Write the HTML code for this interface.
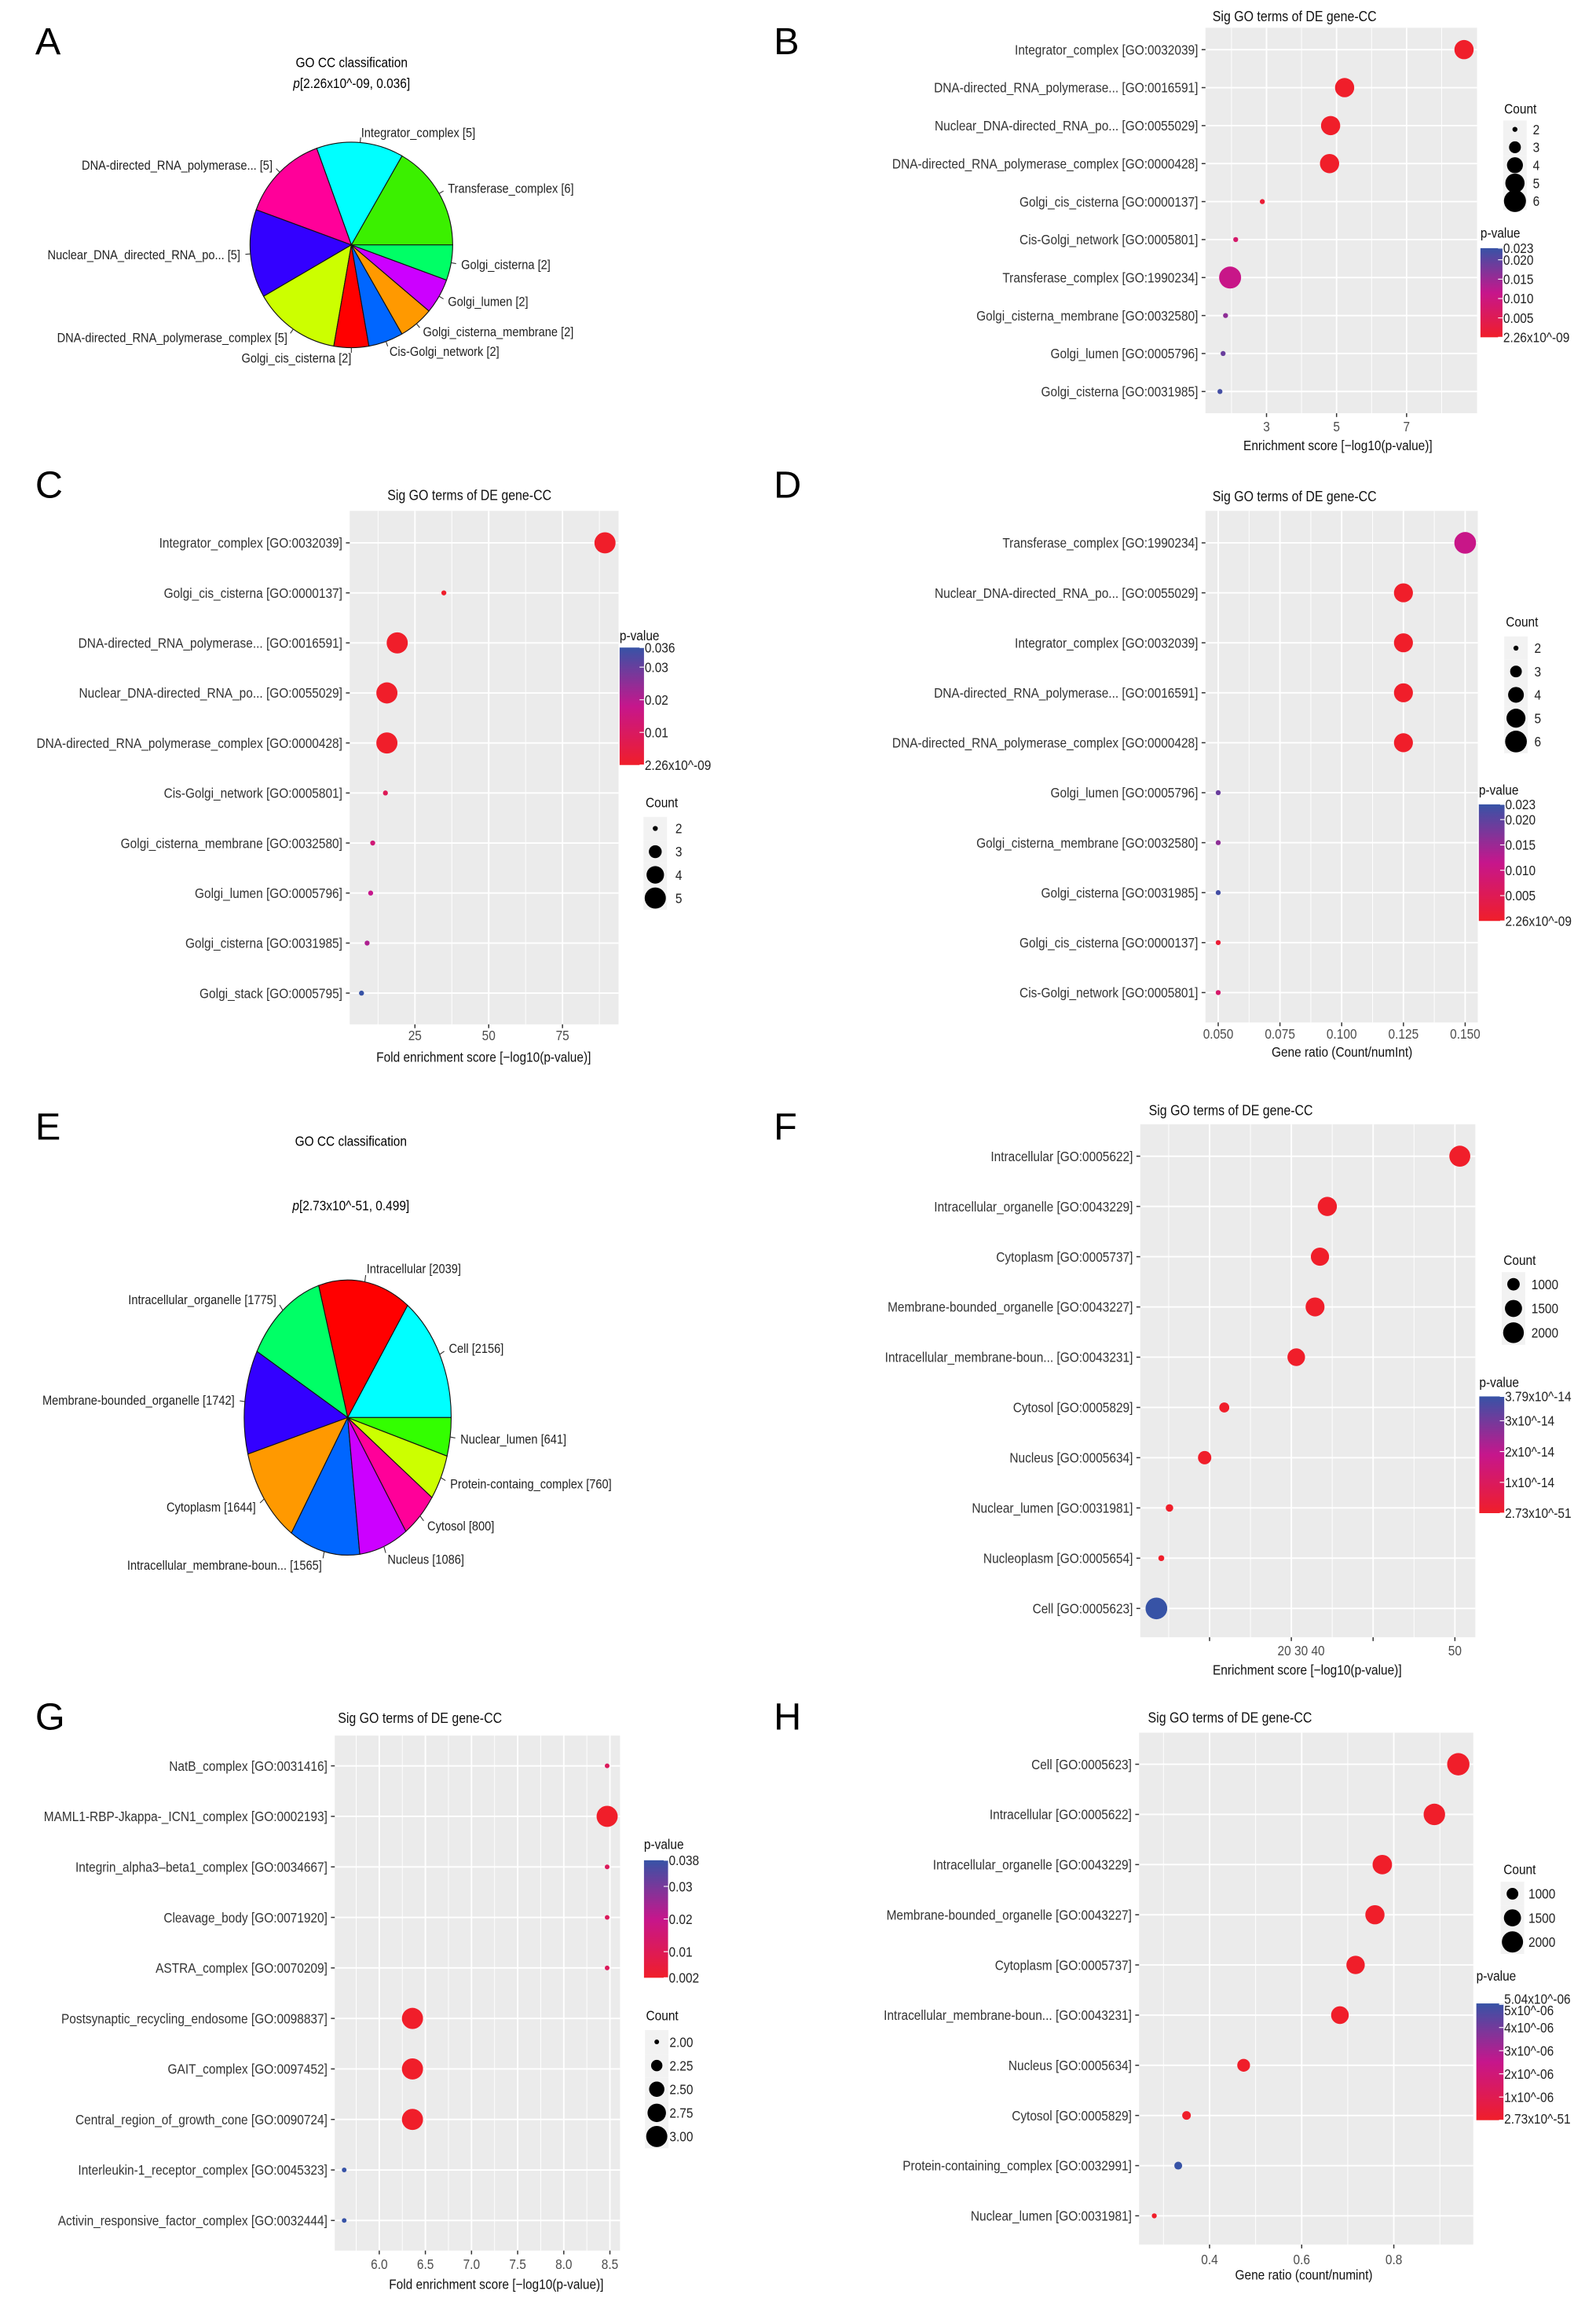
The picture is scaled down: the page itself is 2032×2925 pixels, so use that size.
<!DOCTYPE html>
<html><head><meta charset="utf-8"><title>GO CC figure</title>
<style>
html,body{margin:0;padding:0;background:#fff;}
svg{display:block;font-family:"Liberation Sans",Arial,sans-serif;}
</style></head>
<body>
<svg id="fig" xmlns="http://www.w3.org/2000/svg" width="2032" height="2925" viewBox="0 0 1087 1565" preserveAspectRatio="none">
<rect x="0" y="0" width="1087" height="1565" fill="#fff"/>
</svg>
<script>
// ---------- DATA ----------
// Panel A pie
const aNames = ["Transferase_complex","Integrator_complex","DNA-directed_RNA_polymerase...","Nuclear_DNA_directed_RNA_po...","DNA-directed_RNA_polymerase_complex","Golgi_cis_cisterna","Cis-Golgi_network","Golgi_cisterna_membrane","Golgi_lumen","Golgi_cisterna"];
const aCounts = [6,5,5,5,5,2,2,2,2,2];
const aColors = ["#3BF000","#00FFFF","#FF0099","#3300FF","#CCFF00","#FF0000","#0066FF","#FF9900","#CC00FF","#00FF66"];
// Panel E pie
const eNames = ["Cell","Intracellular","Intracellular_organelle","Membrane-bounded_organelle","Cytoplasm","Intracellular_membrane-boun...","Nucleus","Cytosol","Protein-containg_complex","Nuclear_lumen"];
const eCounts = [2156,2039,1775,1742,1644,1565,1086,800,760,641];
const eColors = ["#00FFFF","#FF0000","#00FF66","#3300FF","#FF9900","#0066FF","#CC00FF","#FF0099","#CCFF00","#33FF00"];

// Panel B
const bTerms = ["Integrator_complex [GO:0032039]","DNA-directed_RNA_polymerase... [GO:0016591]","Nuclear_DNA-directed_RNA_po... [GO:0055029]","DNA-directed_RNA_polymerase_complex [GO:0000428]","Golgi_cis_cisterna [GO:0000137]","Cis-Golgi_network [GO:0005801]","Transferase_complex [GO:1990234]","Golgi_cisterna_membrane [GO:0032580]","Golgi_lumen [GO:0005796]","Golgi_cisterna [GO:0031985]"];
const bScore = [8.64,5.23,4.83,4.8,2.88,2.12,1.96,1.83,1.76,1.67];
const bCount = [5,5,5,5,2,2,6,2,2,2];
const bP = [0,0.000006,0.000015,0.000016,0.0013,0.0075,0.011,0.016,0.019,0.022];
const bTicks = [3,5,7];
const bCbarTicks = [0.023,0.020,0.015,0.010,0.005,0];
const bCbarLabels = ["0.023","0.020","0.015","0.010","0.005","2.26x10^-09"];
const bCountBreaks = [2,3,4,5,6];

// Panel C
const cTerms = ["Integrator_complex [GO:0032039]","Golgi_cis_cisterna [GO:0000137]","DNA-directed_RNA_polymerase... [GO:0016591]","Nuclear_DNA-directed_RNA_po... [GO:0055029]","DNA-directed_RNA_polymerase_complex [GO:0000428]","Cis-Golgi_network [GO:0005801]","Golgi_cisterna_membrane [GO:0032580]","Golgi_lumen [GO:0005796]","Golgi_cisterna [GO:0031985]","Golgi_stack [GO:0005795]"];
const cScore = [89.4,34.8,19,15.5,15.5,15,10.7,10,8.8,6.9];
const cCount = [5,2,5,5,5,2,2,2,2,2];
const cP = [0,0.0003,0.00001,0.00002,0.00002,0.008,0.014,0.018,0.021,0.036];
const cTicks = [25,50,75];
const cCbarTicks = [0.036,0.03,0.02,0.01,0];
const cCbarLabels = ["0.036","0.03","0.02","0.01","2.26x10^-09"];
const cCountBreaks = [2,3,4,5];

// Panel D
const dTerms = ["Transferase_complex [GO:1990234]","Nuclear_DNA-directed_RNA_po... [GO:0055029]","Integrator_complex [GO:0032039]","DNA-directed_RNA_polymerase... [GO:0016591]","DNA-directed_RNA_polymerase_complex [GO:0000428]","Golgi_lumen [GO:0005796]","Golgi_cisterna_membrane [GO:0032580]","Golgi_cisterna [GO:0031985]","Golgi_cis_cisterna [GO:0000137]","Cis-Golgi_network [GO:0005801]"];
const dRatio = [0.15,0.125,0.125,0.125,0.125,0.05,0.05,0.05,0.05,0.05];
const dCount = [6,5,5,5,5,2,2,2,2,2];
const dP = [0.011,0.000015,0,0.000006,0.000016,0.019,0.016,0.022,0.0013,0.0075];
const dTicks = [0.05,0.075,0.1,0.125,0.15];
const dTickLabels = ["0.050","0.075","0.100","0.125","0.150"];

// Panel F
const fTerms = ["Intracellular [GO:0005622]","Intracellular_organelle [GO:0043229]","Cytoplasm [GO:0005737]","Membrane-bounded_organelle [GO:0043227]","Intracellular_membrane-boun... [GO:0043231]","Cytosol [GO:0005829]","Nucleus [GO:0005634]","Nuclear_lumen [GO:0031981]","Nucleoplasm [GO:0005654]","Cell [GO:0005623]"];
const fScore = [50.6,34.4,33.5,32.9,30.6,21.8,19.4,15.1,14.1,13.5];
const fCount = [2039,1775,1644,1742,1565,800,1086,641,560,2156];
const fP = [0,0,0,0,0,0,0,0,0,3.79];
const fTicks = [20,30,40,50];
const fCbarTicks = [3.79,3,2,1,0];
const fCbarLabels = ["3.79x10^-14","3x10^-14","2x10^-14","1x10^-14","2.73x10^-51"];
const fCountBreaks = [1000,1500,2000];

// Panel G
const gTerms = ["NatB_complex [GO:0031416]","MAML1-RBP-Jkappa-_ICN1_complex [GO:0002193]","Integrin_alpha3\u2013beta1_complex [GO:0034667]","Cleavage_body [GO:0071920]","ASTRA_complex [GO:0070209]","Postsynaptic_recycling_endosome [GO:0098837]","GAIT_complex [GO:0097452]","Central_region_of_growth_cone [GO:0090724]","Interleukin-1_receptor_complex [GO:0045323]","Activin_responsive_factor_complex [GO:0032444]"];
const gScore = [8.47,8.47,8.47,8.47,8.47,6.36,6.36,6.36,5.62,5.62];
const gCount = [2,3,2,2,2,3,3,3,2,2];
const gP = [0.011,0.002,0.011,0.011,0.011,0.002,0.002,0.002,0.038,0.038];
const gTicks = [6.0,6.5,7.0,7.5,8.0,8.5];
const gTickLabels = ["6.0","6.5","7.0","7.5","8.0","8.5"];
const gCbarTicks = [0.038,0.03,0.02,0.01,0.002];
const gCbarLabels = ["0.038","0.03","0.02","0.01","0.002"];
const gCountBreaks = [2,2.25,2.5,2.75,3];
const gCountLabels = ["2.00","2.25","2.50","2.75","3.00"];

// Panel H
const hTerms = ["Cell [GO:0005623]","Intracellular [GO:0005622]","Intracellular_organelle [GO:0043229]","Membrane-bounded_organelle [GO:0043227]","Cytoplasm [GO:0005737]","Intracellular_membrane-boun... [GO:0043231]","Nucleus [GO:0005634]","Cytosol [GO:0005829]","Protein-containing_complex [GO:0032991]","Nuclear_lumen [GO:0031981]"];
const hRatio = [0.94,0.888,0.775,0.759,0.717,0.683,0.474,0.35,0.332,0.28];
const hCount = [2156,2039,1775,1742,1644,1565,1086,800,760,641];
const hP = [0,0,0,0,0,0,0,0,5.04,0];
const hTicks = [0.4,0.6,0.8];
const hCbarTicks = [5.04,5,4,3,2,1,0];
const hCbarLabels = ["5.04x10^-06","5x10^-06","4x10^-06","3x10^-06","2x10^-06","1x10^-06","2.73x10^-51"];

// ---------- DRAWING ----------
const NS = "http://www.w3.org/2000/svg";
const svg = document.getElementById('fig');
const SQ = 0.87;

function el(tag, attrs, parent) {
  const e = document.createElementNS(NS, tag);
  for (const k in attrs) e.setAttribute(k, attrs[k]);
  (parent || svg).appendChild(e);
  return e;
}
function txt(x, y, s, size, anchor, fill, parent, squeeze) {
  const sc = squeeze === false ? 1 : SQ;
  const e = el('text', {x:0, y:0, dy:'0.35em', transform:'translate(' + x + ',' + y + ') scale(' + sc + ',1)', 'font-size':size, 'text-anchor':anchor, fill:fill || '#000'}, parent);
  e.textContent = s;
  return e;
}
function lerp(a,b,t){return a+(b-a)*t;}
const stops = [[0,[240,30,42]],[0.5,[198,22,140]],[1,[55,83,166]]];
function pcolor(t){
  t = Math.max(0, Math.min(1, t));
  let i = t <= 0.5 ? 0 : 1;
  const a = stops[i], b = stops[i+1];
  const u = (t - a[0])/(b[0]-a[0]);
  const c = a[1].map((v,k)=>Math.round(lerp(v,b[1][k],u)));
  return 'rgb(' + c.join(',') + ')';
}

// panel letters
const letters = [["A",24,37],["B",527,37],["C",24,339],["D",527,339],["E",24,776],["F",527,776],["G",24,1178],["H",527,1178]];
letters.forEach(L => {
  const t = el('text', {x:L[1], y:L[2], 'font-size':26, fill:'#000'});
  
  
  t.textContent = L[0];
});

// ---------- PIE ----------
function drawPie(id, names, counts, colors, cx, cy, rx, ry, title, sub, tx, ty1, ty2) {
  const g = el('g', {});
  
  
  const t1 = txt(tx, ty1, title, 9.5, 'middle', '#000', g);
  
  
  const t2 = txt(tx, ty2, '', 9.5, 'middle', '#000', g);
  const it = el('tspan', {'font-style':'italic'}, t2); it.textContent = 'p';
  const rest = el('tspan', {}, t2); rest.textContent = sub;
  
  
  const total = counts.reduce((a,b)=>a+b,0);
  let acc = 0;
  counts.forEach((c, i) => {
    const a0 = acc/total*2*Math.PI, a1 = (acc+c)/total*2*Math.PI;
    acc += c;
    const x0 = cx + rx*Math.cos(a0), y0 = cy - ry*Math.sin(a0);
    const x1 = cx + rx*Math.cos(a1), y1 = cy - ry*Math.sin(a1);
    const large = (a1-a0) > Math.PI ? 1 : 0;
    const p = el('path', {d:'M'+cx+','+cy+' L'+x0+','+y0+' A'+rx+','+ry+' 0 '+large+' 0 '+x1+','+y1+' Z', fill:colors[i], stroke:'#111', 'stroke-width':0.6}, g);
    
    
    const m = (a0+a1)/2, cs = Math.cos(m), sn = Math.sin(m);
    const ln = el('line', {x1:cx+rx*cs, y1:cy-ry*sn, x2:cx+1.05*rx*cs, y2:cy-1.05*ry*sn, stroke:'#333', 'stroke-width':0.6}, g);
    
    
    const lx = cx + 1.1*rx*cs, ly = cy - 1.1*ry*sn;
    const lb = txt(lx, ly, names[i] + ' [' + c + ']', 9, cs < -1e-9 || Math.abs(cs) < 1e-9 ? 'end' : 'start', '#222', g);
    
    
  });
}
drawPie('a', aNames, aCounts, aColors, 239.3, 166.8, 69, 70, 'GO CC classification', '[2.26x10^-09, 0.036]', 239.5, 42.4, 56.6);
drawPie('e', eNames, eCounts, eColors, 236.8, 965.4, 70.5, 93.7, 'GO CC classification', '[2.73x10^-51, 0.499]', 239, 777, 821);

// ---------- DOT PLOTS ----------
let gradN = 0;
function drawDot(c) {
  const g = el('g', {});
  
  
  const [bx0, bx1, by0, by1] = c.bg;
  const xs = v => c.xr[0] + (v - c.xd[0])/(c.xd[1]-c.xd[0])*(c.xr[1]-c.xr[0]);
  const ys = i => c.row0 + i*c.rowStep;
  const bg = el('rect', {x:bx0, y:by0, width:bx1-bx0, height:by1-by0, fill:'#EBEBEB'}, g);
  
  
  c.minors.forEach(v => {
    const x = xs(v);
    if (x <= bx0 || x >= bx1) return;
    const l = el('line', {x1:x, x2:x, y1:by0, y2:by1, stroke:'#fff', 'stroke-width':0.5}, g);
    
    
  });
  c.majors.forEach(v => {
    const x = xs(v);
    if (x <= bx0 || x >= bx1) return;
    const l = el('line', {x1:x, x2:x, y1:by0, y2:by1, stroke:'#fff', 'stroke-width':1}, g);
    
    
    const tk = el('line', {x1:x, x2:x, y1:by1, y2:by1+2.6, stroke:'#333', 'stroke-width':0.8}, g);
    
    
  });
  c.tickLabels.forEach((s, i) => {
    const t = txt(xs(c.tickLabelVals[i]), c.tickY, s, 9.5, 'middle', '#4D4D4D', g);
    
    
  });
  c.terms.forEach((s, i) => {
    const y = ys(i);
    const l = el('line', {x1:bx0, x2:bx1, y1:y, y2:y, stroke:'#fff', 'stroke-width':1}, g);
    
    
    const tk = el('line', {x1:bx0-2.6, x2:bx0, y1:y, y2:y, stroke:'#333', 'stroke-width':0.8}, g);
    
    
    const t = txt(bx0-5, y, s, 9.5, 'end', '#333', g);
    
    
  });
  const rOf = n => {
    const t = (n - c.cLim[0])/(c.cLim[1]-c.cLim[0]);
    return Math.sqrt(c.rr[0]*c.rr[0] + t*(c.rr[1]*c.rr[1]-c.rr[0]*c.rr[0]));
  };
  const tOf = p => (p - c.pLim[0])/(c.pLim[1]-c.pLim[0]);
  c.vals.forEach((v, i) => {
    const d = el('circle', {cx:xs(v), cy:ys(i), r:rOf(c.counts[i]), fill:pcolor(tOf(c.pv[i]))}, g);
    
    
  });
  const tt = txt(c.titleX, c.titleY, 'Sig GO terms of DE gene-CC', 9.8, 'middle', '#111', g);
  
  
  const xt = txt(c.xlabX, c.xlabY, c.xlab, 9.5, 'middle', '#111', g);
  
  
  // count legend
  const ct = txt(c.cl.x, c.cl.titleY, 'Count', 9.5, 'start', '#111', g);
  
  
  c.cBreaks.forEach((n, i) => {
    const y = c.cl.y0 + i*c.cl.step;
    const k = el('rect', {x:c.cl.dotX-8, y:y-c.cl.step/2, width:16, height:c.cl.step, fill:'#F2F2F2'}, g);
    
    
    const d = el('circle', {cx:c.cl.dotX, cy:y, r:rOf(n), fill:'#000'}, g);
    
    
    const t = txt(c.cl.labX, y, c.cLabels[i], 9.5, 'start', '#222', g);
    
    
  });
  // colorbar
  const gid = 'grad' + (gradN++);
  const defs = el('defs', {}, g);
  const lg = el('linearGradient', {id:gid, x1:0, y1:1, x2:0, y2:0}, defs);
  [0,0.25,0.5,0.75,1].forEach(t => el('stop', {offset:t, 'stop-color':pcolor(t)}, lg));
  const cb = c.cb;
  const pt = txt(cb.x, cb.titleY, 'p-value', 9.5, 'start', '#111', g);
  
  
  const bar = el('rect', {x:cb.x, y:cb.y0, width:cb.w, height:cb.y1-cb.y0, fill:'url(#' + gid + ')'}, g);
  
  
  c.cbTicks.forEach((v, i) => {
    const y = cb.y1 - tOf(v)*(cb.y1-cb.y0);
    const tk = el('line', {x1:cb.x+cb.w-3, x2:cb.x+cb.w, y1:y, y2:y, stroke:'#fff', 'stroke-width':0.6}, g);
    
    
    const t = txt(cb.x+cb.w+0.5, y + (cb.off ? cb.off[i] : 0), c.cbLabels[i], 9.5, 'start', '#222', g);
    
    
  });
}

const halfs = (a) => a.slice(0,-1).map((v,i)=>(v+a[i+1])/2);

drawDot({id:'b', terms:bTerms, vals:bScore, counts:bCount, pv:bP,
  bg:[821,1006,18.9,281.4], row0:33.8, rowStep:25.87, xd:[3,7], xr:[862.6,958],
  majors:[3,5,7], minors:[2,4,6,8], tickLabels:bTicks.map(String), tickLabelVals:bTicks, tickY:290.4,
  titleX:881.7, titleY:11, xlab:'Enrichment score [\u2212log10(p-value)]', xlabX:911.2, xlabY:303.3,
  cLim:[2,6], rr:[1.7,7.5], cBreaks:bCountBreaks, cLabels:bCountBreaks.map(String),
  cl:{x:1024.5, titleY:74, y0:88.1, step:12.2, dotX:1031.8, labX:1044},
  pLim:[0,0.023], cb:{x:1008.3, y0:169, y1:229.7, w:15, titleY:158.5}, cbTicks:bCbarTicks, cbLabels:bCbarLabels});

drawDot({id:'c', terms:cTerms, vals:cScore, counts:cCount, pv:cP,
  bg:[238.2,421.3,347.9,697.6], row0:369.7, rowStep:34.07, xd:[25,75], xr:[282.6,383.1],
  majors:[25,50,75], minors:[12.5,37.5,62.5,87.5], tickLabels:cTicks.map(String), tickLabelVals:cTicks, tickY:705.2,
  titleX:319.7, titleY:337, xlab:'Fold enrichment score [\u2212log10(p-value)]', xlabX:329.4, xlabY:719.7,
  cLim:[2,5], rr:[1.7,7.2], cBreaks:cCountBreaks, cLabels:cCountBreaks.map(String),
  cl:{x:439.7, titleY:546.3, y0:564.2, step:15.8, dotX:446.3, labX:460},
  pLim:[0,0.036], cb:{x:422, y0:441, y1:521, w:16.6, titleY:432.6}, cbTicks:cCbarTicks, cbLabels:cCbarLabels});

drawDot({id:'d', terms:dTerms, vals:dRatio, counts:dCount, pv:dP,
  bg:[821,1006.5,347.9,696.3], row0:369.7, rowStep:34.03, xd:[0.05,0.15], xr:[829.7,997.9],
  majors:dTicks, minors:halfs([0.025].concat(dTicks).concat([0.175])), tickLabels:dTickLabels, tickLabelVals:dTicks, tickY:704,
  titleX:881.7, titleY:338, xlab:'Gene ratio (Count/numInt)', xlabX:914, xlabY:716.4,
  cLim:[2,6], rr:[1.7,7.4], cBreaks:bCountBreaks, cLabels:bCountBreaks.map(String),
  cl:{x:1025.6, titleY:423.4, y0:441.4, step:15.9, dotX:1032.5, labX:1045},
  pLim:[0,0.023], cb:{x:1007.2, y0:547.8, y1:627.2, w:17.5, titleY:538}, cbTicks:bCbarTicks, cbLabels:bCbarLabels});

drawDot({id:'f', terms:fTerms, vals:fScore, counts:fCount, pv:fP,
  bg:[776.6,1004.8,765.7,1115], row0:787.4, rowStep:34.22, xd:[20,50], xr:[823.8,990.9],
  majors:fTicks, minors:[15,25,35,45], tickLabels:['20 30 40','50'], tickLabelVals:[31.2,50], tickY:1124.1,
  titleX:838.3, titleY:756, xlab:'Enrichment score [\u2212log10(p-value)]', xlabX:890.3, xlabY:1137,
  cLim:[560,2156], rr:[2,7.4], cBreaks:fCountBreaks, cLabels:fCountBreaks.map(String),
  cl:{x:1024, titleY:858.2, y0:874.6, step:16.5, dotX:1030.8, labX:1043},
  pLim:[0,3.79], cb:{x:1007.5, y0:951, y1:1030.5, w:17, titleY:941.2}, cbTicks:fCbarTicks, cbLabels:fCbarLabels});

drawDot({id:'g', terms:gTerms, vals:gScore, counts:gCount, pv:gP,
  bg:[228,422.3,1182,1532.7], row0:1202.6, rowStep:34.4, xd:[6,8.5], xr:[258.3,415.4],
  majors:gTicks, minors:[5.75,6.25,6.75,7.25,7.75,8.25], tickLabels:gTickLabels, tickLabelVals:gTicks, tickY:1542,
  titleX:286, titleY:1170, xlab:'Fold enrichment score [\u2212log10(p-value)]', xlabX:338, xlabY:1555.6,
  cLim:[2,3], rr:[1.6,7.2], cBreaks:gCountBreaks, cLabels:gCountLabels,
  cl:{x:440, titleY:1372.6, y0:1390.6, step:16.1, dotX:447.3, labX:456},
  pLim:[0.002,0.038], cb:{x:438.6, y0:1266.9, y1:1346.9, w:16.4, titleY:1256}, cbTicks:gCbarTicks, cbLabels:gCbarLabels});

drawDot({id:'h', terms:hTerms, vals:hRatio, counts:hCount, pv:hP,
  bg:[775.8,1003.4,1180,1528.6], row0:1201.5, rowStep:34.17, xd:[0.4,0.8], xr:[823.8,949.3],
  majors:hTicks, minors:[0.3,0.5,0.7,0.9], tickLabels:hTicks.map(String), tickLabelVals:hTicks, tickY:1538.6,
  titleX:837.7, titleY:1169.7, xlab:'Gene ratio (count/numint)', xlabX:888, xlabY:1549,
  cLim:[641,2156], rr:[1.7,7.6], cBreaks:fCountBreaks, cLabels:fCountBreaks.map(String),
  cl:{x:1024, titleY:1273, y0:1289.7, step:16.4, dotX:1030.1, labX:1041},
  pLim:[0,5.04], cb:{x:1005.5, y0:1364.4, y1:1443.9, w:18.5, titleY:1345.5, off:[-3,4,0,0,0,0,-1]}, cbTicks:hCbarTicks, cbLabels:hCbarLabels});
</script>
</body></html>
